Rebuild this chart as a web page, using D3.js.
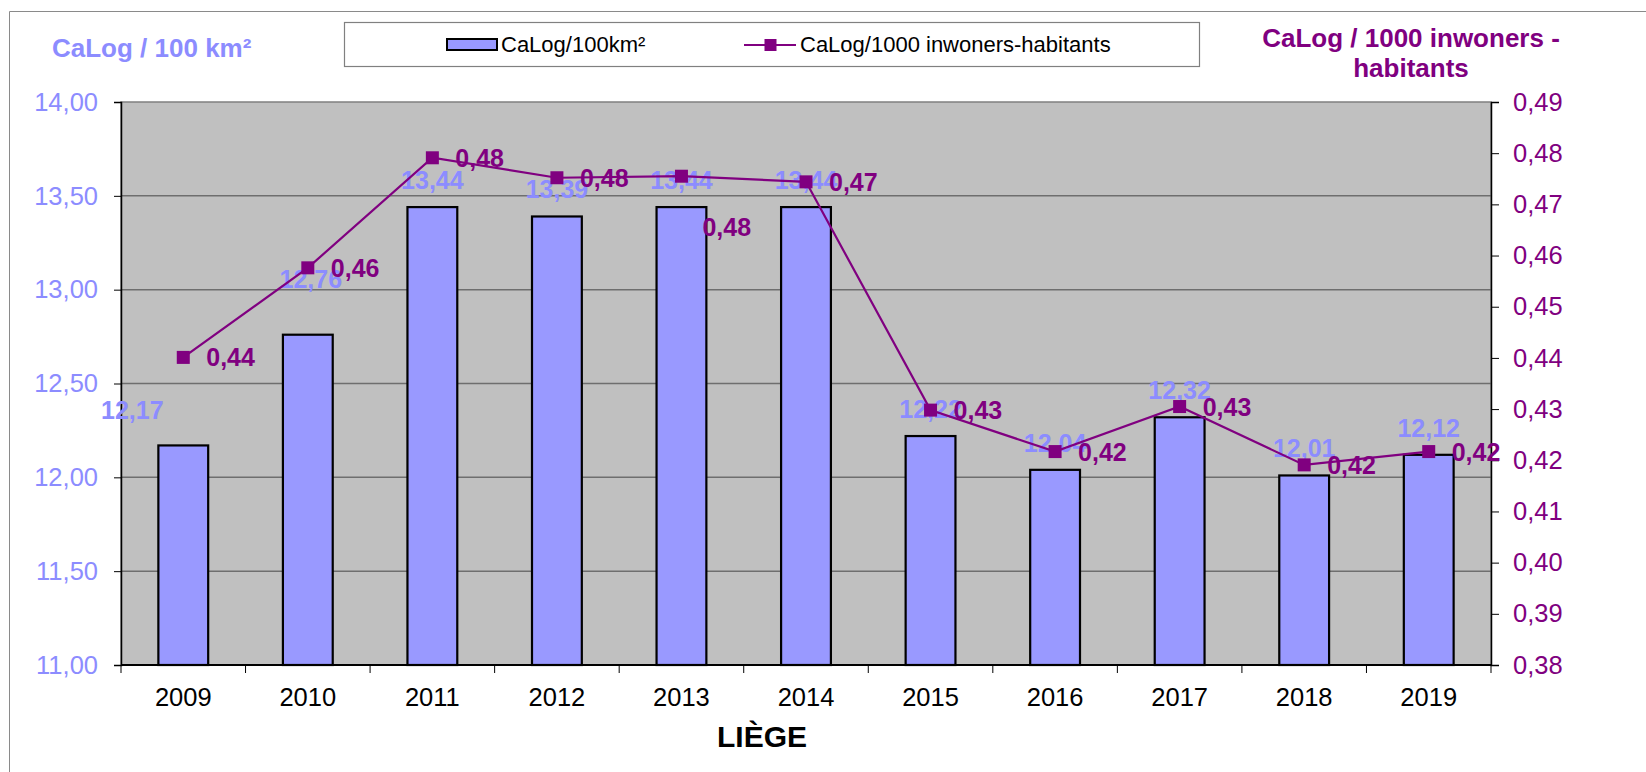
<!DOCTYPE html>
<html>
<head>
<meta charset="utf-8">
<script src="https://cdn.jsdelivr.net/npm/d3@7"></script>
<style>
  body { margin: 0; background: #fff; }
  svg { display: block; font-family: Arial, "Liberation Sans", sans-serif; }
</style>
</head>
<body>
<svg id="chart"></svg>
<script>
// data
const years = ["2009", "2010", "2011", "2012", "2013", "2014", "2015", "2016", "2017", "2018", "2019"];
const perArea = [12.17, 12.76, 13.44, 13.39, 13.44, 13.44, 12.22, 12.04, 12.32, 12.01, 12.12];
const perPop = [0.4401, 0.4576, 0.4791, 0.4752, 0.4755, 0.4744, 0.4298, 0.4217, 0.4305, 0.4191, 0.4217];
const leftTicks = [11, 11.5, 12, 12.5, 13, 13.5, 14];
const rightTicks = [0.38, 0.39, 0.40, 0.41, 0.42, 0.43, 0.44, 0.45, 0.46, 0.47, 0.48, 0.49];

const width = 1646, height = 772;
const margin = { top: 102, right: 155, bottom: 107, left: 121 };
const barColor = "#9999ff", barText = "#8c8cff", purple = "#800080";

// a few labels were dragged by hand in the original
const barLabelShift = { "2009": [-51, -8], "2010": [3, -29] };
const lineLabelShift = { "2013": [-2, 51] };

const fr = d3.formatLocale({ decimal: ",", thousands: ".", grouping: [3], currency: ["", ""] });
const f2 = fr.format(".2f");

const svg = d3.select("#chart").attr("width", width).attr("height", height);

// outer chart frame (only left & top visible)
svg.append("path")
    .attr("d", `M9.5,${height}V11.5H${width}`)
    .attr("fill", "none")
    .attr("stroke", "#8a8a8a")
    .attr("stroke-width", 1);

const x = d3.scaleBand().domain(years)
    .range([margin.left, width - margin.right])
    .paddingInner(0.6).paddingOuter(0.3);
const yL = d3.scaleLinear().domain([11, 14]).range([height - margin.bottom, margin.top]);
const yR = d3.scaleLinear().domain([0.38, 0.49]).range([height - margin.bottom, margin.top]);

const plotW = width - margin.right - margin.left;
const plotH = height - margin.bottom - margin.top;

// plot background
svg.append("rect")
    .attr("x", margin.left).attr("y", margin.top)
    .attr("width", plotW).attr("height", plotH)
    .attr("fill", "#c0c0c0")
    .attr("stroke", "#808080").attr("stroke-width", 1.5);

// gridlines
svg.append("g")
    .selectAll("line")
    .data(leftTicks.slice(1, -1))
    .join("line")
    .attr("x1", margin.left).attr("x2", width - margin.right)
    .attr("y1", d => yL(d)).attr("y2", d => yL(d))
    .attr("stroke", "#6e6e6e").attr("stroke-width", 1.5);

// bars
svg.append("g")
    .selectAll("rect")
    .data(perArea)
    .join("rect")
    .attr("x", (d, i) => x(years[i]))
    .attr("y", d => yL(d))
    .attr("width", x.bandwidth())
    .attr("height", d => yL(11) - yL(d))
    .attr("fill", barColor)
    .attr("stroke", "#000").attr("stroke-width", 2.2);

// left axis
const axL = svg.append("g")
    .attr("transform", `translate(${margin.left},0)`)
    .call(d3.axisLeft(yL).tickValues(leftTicks).tickFormat(f2).tickSize(7).tickPadding(16));
axL.select(".domain").attr("stroke", "#000").attr("stroke-width", 1.5);
axL.selectAll(".tick line").attr("stroke", "#000");
axL.selectAll("text").attr("font-size", 25.5).attr("fill", barText)
    .attr("font-family", "Arial, 'Liberation Sans', sans-serif");

// right axis
const axR = svg.append("g")
    .attr("transform", `translate(${width - margin.right},0)`)
    .call(d3.axisRight(yR).tickValues(rightTicks).tickFormat(f2).tickSize(8).tickPadding(14));
axR.select(".domain").attr("stroke", "#000").attr("stroke-width", 1.5);
axR.selectAll(".tick line").attr("stroke", "#000");
axR.selectAll("text").attr("font-size", 25.5).attr("fill", purple)
    .attr("font-family", "Arial, 'Liberation Sans', sans-serif");

// bottom axis, ticks between categories
const yBase = height - margin.bottom;
svg.append("line")
    .attr("x1", margin.left).attr("x2", width - margin.right)
    .attr("y1", yBase).attr("y2", yBase)
    .attr("stroke", "#000").attr("stroke-width", 2);
svg.append("g")
    .selectAll("line")
    .data(d3.range(years.length + 1))
    .join("line")
    .attr("x1", i => margin.left + i * plotW / years.length)
    .attr("x2", i => margin.left + i * plotW / years.length)
    .attr("y1", yBase).attr("y2", yBase + 8)
    .attr("stroke", "#000").attr("stroke-width", 1);
svg.append("g")
    .selectAll("text")
    .data(years)
    .join("text")
    .attr("x", d => x(d) + x.bandwidth() / 2)
    .attr("y", yBase + 41)
    .attr("text-anchor", "middle")
    .attr("font-size", 25.5)
    .attr("fill", "#000")
    .text(d => d);

// bar value labels
svg.append("g")
    .selectAll("text")
    .data(perArea)
    .join("text")
    .attr("x", (d, i) => x(years[i]) + x.bandwidth() / 2 + (barLabelShift[years[i]] || [0, 0])[0])
    .attr("y", (d, i) => yL(d) - 18 + (barLabelShift[years[i]] || [0, 0])[1])
    .attr("text-anchor", "middle")
    .attr("font-size", 25).attr("font-weight", "bold")
    .attr("fill", barText)
    .text(d => f2(d));

// line series
const line = d3.line()
    .x((d, i) => x(years[i]) + x.bandwidth() / 2)
    .y(d => yR(d));
svg.append("path")
    .datum(perPop)
    .attr("d", line)
    .attr("fill", "none")
    .attr("stroke", purple).attr("stroke-width", 2.2);
svg.append("g")
    .selectAll("rect")
    .data(perPop)
    .join("rect")
    .attr("x", (d, i) => x(years[i]) + x.bandwidth() / 2 - 6.5)
    .attr("y", d => yR(d) - 6.5)
    .attr("width", 13).attr("height", 13)
    .attr("fill", purple);
svg.append("g")
    .selectAll("text")
    .data(perPop)
    .join("text")
    .attr("x", (d, i) => x(years[i]) + x.bandwidth() / 2 + 23 + (lineLabelShift[years[i]] || [0, 0])[0])
    .attr("y", (d, i) => yR(d) + 9 + (lineLabelShift[years[i]] || [0, 0])[1])
    .attr("font-size", 25).attr("font-weight", "bold")
    .attr("fill", purple)
    .text(d => f2(d));

// axis titles
svg.append("text")
    .attr("x", 52).attr("y", 57)
    .attr("font-size", 26).attr("font-weight", "bold")
    .attr("fill", barText)
    .text("CaLog / 100 km²");
const rt = svg.append("text")
    .attr("x", 1411).attr("y", 47)
    .attr("text-anchor", "middle")
    .attr("font-size", 26).attr("font-weight", "bold")
    .attr("fill", purple);
rt.append("tspan").attr("x", 1411).text("CaLog / 1000 inwoners -");
rt.append("tspan").attr("x", 1411).attr("dy", 30).text("habitants");

// x title
svg.append("text")
    .attr("x", 762).attr("y", 747)
    .attr("text-anchor", "middle")
    .attr("font-size", 30).attr("font-weight", "bold")
    .text("LIÈGE");

// legend
const lg = svg.append("g");
lg.append("rect")
    .attr("x", 344.5).attr("y", 22.5).attr("width", 855).attr("height", 44)
    .attr("fill", "#fff").attr("stroke", "#808080").attr("stroke-width", 1.2);
lg.append("rect")
    .attr("x", 447).attr("y", 39).attr("width", 50).attr("height", 11)
    .attr("fill", barColor).attr("stroke", "#000").attr("stroke-width", 2);
lg.append("text")
    .attr("x", 501).attr("y", 52)
    .attr("font-size", 22)
    .text("CaLog/100km²");
lg.append("line")
    .attr("x1", 744).attr("x2", 796).attr("y1", 45).attr("y2", 45)
    .attr("stroke", purple).attr("stroke-width", 2.2);
lg.append("rect")
    .attr("x", 764.5).attr("y", 39).attr("width", 12).attr("height", 12)
    .attr("fill", purple);
lg.append("text")
    .attr("x", 800).attr("y", 52)
    .attr("font-size", 22)
    .text("CaLog/1000 inwoners-habitants");
</script>
</body>
</html>
